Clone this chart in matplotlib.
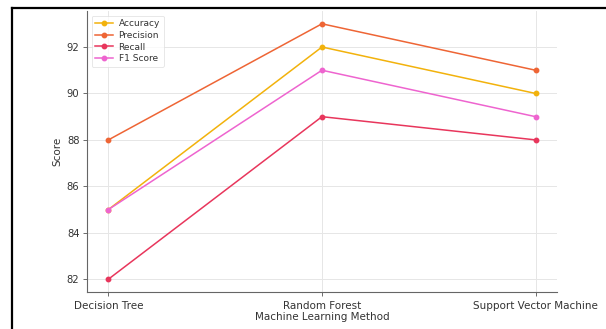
import matplotlib
matplotlib.use("Agg")
import matplotlib.pyplot as plt
from matplotlib.lines import Line2D

methods = ["Decision Tree", "Random Forest", "Support Vector Machine"]
accuracy = [85, 92, 90]
precision = [88, 93, 91]
recall = [82, 89, 88]
f1_score = [85, 91, 89]

series = [
    ("Accuracy", accuracy, "#F2B20C"),
    ("Precision", precision, "#EE6535"),
    ("Recall", recall, "#E8365C"),
    ("F1 Score", f1_score, "#EE64CF"),
]

plt.rcParams["font.family"] = ["DejaVu Sans"]

fig = plt.figure(figsize=(6.06, 3.29), dpi=100)
ax = fig.add_axes([0.1436, 0.1125, 0.7754, 0.854])

x = list(range(len(methods)))
for name, vals, color in series:
    ax.plot(x, vals, marker="o", markersize=3.2, linewidth=1.1, color=color, label=name)

ax.set_xticks(x)
ax.set_xticklabels(methods, fontsize=7.5)
ax.set_yticks([82, 84, 86, 88, 90, 92])
ax.tick_params(axis="y", labelsize=7.2, colors="#555555", length=3, width=0.6, pad=2.5)
ax.tick_params(axis="x", colors="#555555", length=3, width=0.6)
for lbl in ax.get_xticklabels() + ax.get_yticklabels():
    lbl.set_color("#333333")
ax.set_xlim(-0.1, 2.1)
ax.set_ylim(81.45, 93.55)
ax.set_xlabel("Machine Learning Method", fontsize=7.5, color="#333333", labelpad=1)
ax.set_ylabel("Score", fontsize=7.5, color="#333333", labelpad=3)
ax.grid(True, color="#e6e6e6", linewidth=0.7)
ax.set_axisbelow(True)
for side in ("top", "right"):
    ax.spines[side].set_visible(False)
for side in ("left", "bottom"):
    ax.spines[side].set_color("#666666")
    ax.spines[side].set_linewidth(0.8)

leg = ax.legend(loc="upper left", fontsize=6.5, frameon=True, borderpad=0.4,
                labelspacing=0.3, handlelength=2.0, handletextpad=0.6,
                bbox_to_anchor=(0.0, 1.0))
leg.get_frame().set_edgecolor("#dddddd")
leg.get_frame().set_linewidth(0.6)
for t in leg.get_texts():
    t.set_color("#333333")

# dark frame along the top and left edges
fig.add_artist(Line2D([0.019, 0.019], [0.0, 0.977], transform=fig.transFigure,
                      color="black", linewidth=1.6))
fig.add_artist(Line2D([0.019, 1.0], [0.977, 0.977], transform=fig.transFigure,
                      color="black", linewidth=1.6))

fig.savefig("out.png", dpi=100)
